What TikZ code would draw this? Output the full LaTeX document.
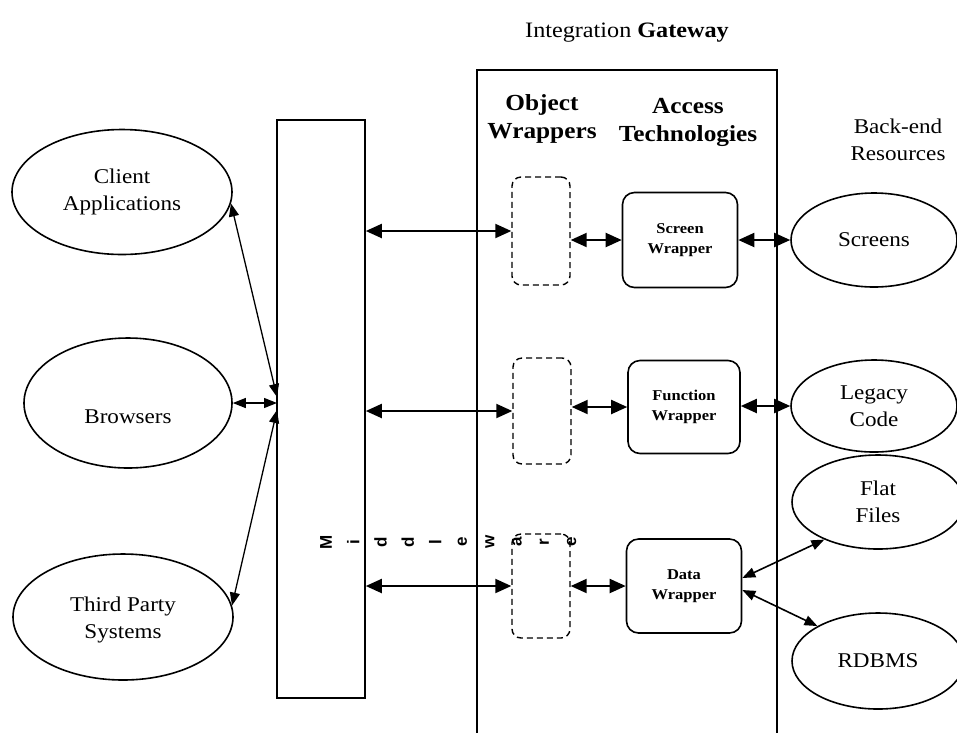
\documentclass[tikz,border=0pt]{standalone}
\usepackage{fontspec}
\setmainfont{Liberation Serif}[FakeStretch=1.1]
\newfontfamily\mwfont{Liberation Sans}
\usetikzlibrary{arrows.meta,shapes.geometric}
\begin{document}
\begin{tikzpicture}[x=1pt,y=-1pt,
  ell/.style={ellipse, draw, line width=1.6pt, inner sep=0pt},
  lab/.style={align=center, font=\fontsize{21}{27}\selectfont},
  head/.style={align=center, font=\bfseries\fontsize{23}{28}\selectfont},
  wrap/.style={draw, rounded corners=12pt, line width=1.6pt, align=center,
    font=\bfseries\fontsize{15}{20}\selectfont, inner sep=0pt},
  dbox/.style={draw, dash pattern=on 6pt off 4pt, rounded corners=9pt, line width=1.4pt, inner sep=0pt},
  frame/.style={draw, line width=1.6pt, inner sep=0pt},
  dbl/.style={{Triangle[length=16pt,width=14pt]}-{Triangle[length=16pt,width=14pt]}, line width=2pt},
  fan/.style={{Triangle[length=13pt,width=10pt]}-{Triangle[length=13pt,width=10pt]}, line width=1.3pt},
  mwl/.style={rotate=90, inner sep=0pt, font=\mwfont\bfseries\fontsize{17}{17}\selectfont}
]
\useasboundingbox (0,0) rectangle (957,732);

% title
\node[font=\fontsize{22}{26}\selectfont] (title) at (627,33) {Integration \textbf{Gateway}};

% left ellipses
\node[ell, minimum width=220pt, minimum height=125pt] (ca) at (122,192) {};
\node[lab] (catxt) at (122,192) {Client\\Applications};
\node[ell, minimum width=208pt, minimum height=130pt] (br) at (128,403) {};
\node[lab] (brtxt) at (128,417) {Browsers};
\node[ell, minimum width=220pt, minimum height=126pt] (tp) at (123,617) {};
\node[lab] (tptxt) at (123,620) {Third Party\\Systems};

% middleware
\node[frame, minimum width=88pt, minimum height=578pt] (mw) at (321,409) {};
\foreach \ch [count=\i from 0] in {M,i,d,d,l,e,w,a,r,e}
  \node[mwl] (m\i) at (326+27.3*\i,542) {\ch};

% integration gateway frame
\draw[line width=1.6pt] (477,740) -- (477,70) -- (777,70) -- (777,740);
\node[head] (ow) at (542,119) {Object\\Wrappers};
\node[head] (at) at (688,122) {Access\\Technologies};
\node[lab] (be) at (898,140) {Back-end\\Resources};

% dashed object wrappers
\node[dbox, minimum width=58pt, minimum height=108pt] (ow1) at (541,231) {};
\node[dbox, minimum width=58pt, minimum height=106pt] (ow2) at (542,411) {};
\node[dbox, minimum width=58pt, minimum height=104pt] (ow3) at (541,586) {};

% wrappers
\node[wrap, minimum width=115pt, minimum height=95pt] (sw) at (680,240) {Screen\\Wrapper};
\node[wrap, minimum width=112pt, minimum height=93pt] (fw) at (684,407) {Function\\Wrapper};
\node[wrap, minimum width=115pt, minimum height=94pt] (dw) at (684,586) {Data\\Wrapper};

% right ellipses
\node[ell, minimum width=166pt, minimum height=94pt] (sc) at (874,240) {};
\node[lab] (sctxt) at (874,240) {Screens};
\node[ell, minimum width=166pt, minimum height=92pt] (lc) at (874,406) {};
\node[lab] (lctxt) at (874,406) {Legacy\\Code};
\node[ell, minimum width=172pt, minimum height=94pt] (ff) at (878,502) {};
\node[lab] (fftxt) at (878,502) {Flat\\Files};
\node[ell, minimum width=172pt, minimum height=96pt] (rd) at (878,661) {};
\node[lab] (rdtxt) at (878,661) {RDBMS};

% hub coordinates on middleware
\coordinate (hubA) at (277,397);
\coordinate (hubB) at (277,403);
\coordinate (hubC) at (277,410);

% left connectors
\draw[fan] (ca.-6) -- (hubA);
\draw[fan] (br.east) -- (hubB);
\draw[fan] (tp.6) -- (hubC);

% middleware to object wrappers
\draw[dbl] (mw.east |- ow1.west) -- (ow1.west);
\draw[dbl] (mw.east |- ow2.west) -- (ow2.west);
\draw[dbl] (mw.east |- ow3.west) -- (ow3.west);

% object wrappers to access wrappers
\draw[dbl] (ow1.east |- sw.west) -- (sw.west);
\draw[dbl] (ow2.east |- fw.west) -- (fw.west);
\draw[dbl] (ow3.east |- dw.west) -- (dw.west);

% access wrappers to resources
\draw[dbl] (sw.east) -- (sc.west);
\draw[dbl] (fw.east |- lc.west) -- (lc.west);
\draw[fan, line width=1.6pt] (dw.east) ++(0,-8) coordinate (dwa) (dwa) -- (ff.-145);
\draw[fan, line width=1.6pt] (dw.east) ++(0,4) coordinate (dwb) (dwb) -- (rd.150);
\end{tikzpicture}
\end{document}
